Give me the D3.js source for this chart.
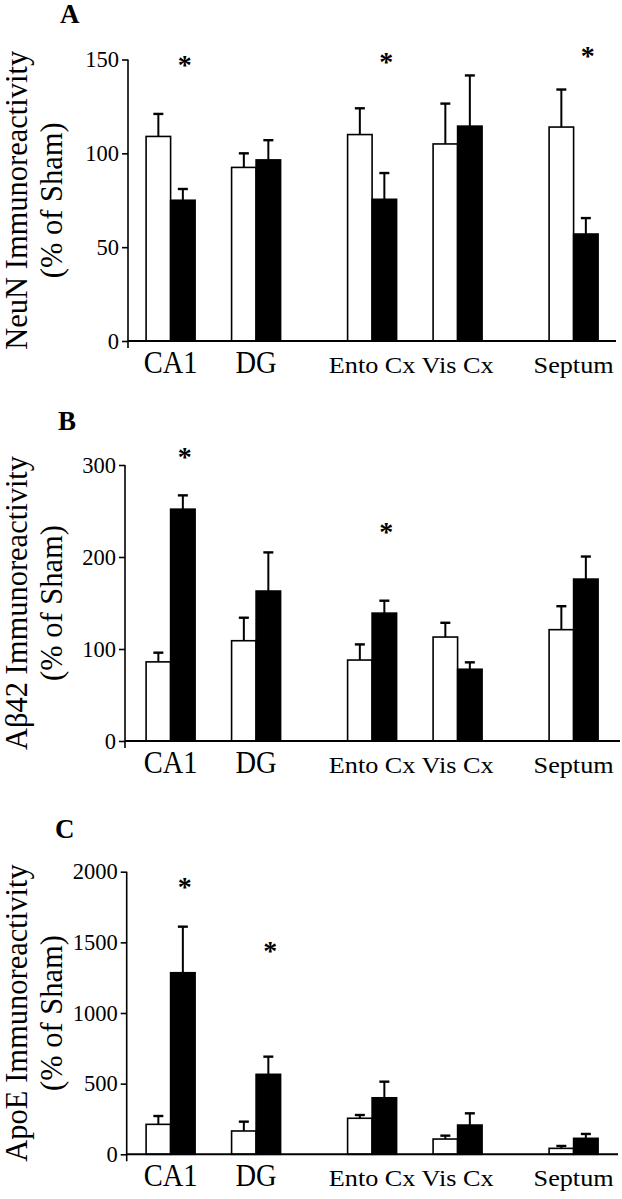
<!DOCTYPE html>
<html>
<head>
<meta charset="utf-8">
<script src="https://cdn.jsdelivr.net/npm/d3@7"></script>
<style>
  html, body { margin: 0; padding: 0; background: #fff; }
  svg { display: block; }
  text { font-family: "Liberation Serif", "Times New Roman", serif; fill: #000; }
</style>
</head>
<body>
<svg id="chart" width="622" height="1199"></svg>
<script>
// ---------------- DATA ----------------
const categories = ["CA1", "DG", "Ento Cx", "Vis Cx", "Septum"];
const seriesNames = ["Sham", "Injured"];

// Panel A: NeuN
const neunSham    = [109, 92.5, 110, 105, 114];
const neunShamSEM = [12, 7.5, 14, 21.5, 20];
const neunInj     = [75, 96.5, 75.5, 114.5, 57];
const neunInjSEM  = [6, 10.5, 14, 27, 8.5];
const neunSig     = [148, null, 149.5, null, 153];
const neunTicks   = [0, 50, 100, 150];

// Panel B: Abeta42
const abSham    = [86, 109, 88, 113, 121];
const abShamSEM = [10, 25, 17, 15.5, 25.5];
const abInj     = [252, 163, 139, 78, 176];
const abInjSEM  = [15, 42, 13.5, 7.5, 24.5];
const abSig     = [311, null, 229, null, null];
const abTicks   = [0, 100, 200, 300];

// Panel C: ApoE
const apoSham    = [212, 165, 255, 108, 42];
const apoShamSEM = [59, 66, 23, 24, 17];
const apoInj     = [1285, 566, 400, 207, 113];
const apoInjSEM  = [326, 125, 114, 83, 31];
const apoSig     = [1906, 1451, null, null, null];
const apoTicks   = [0, 500, 1000, 1500, 2000];

// ---------------- LAYOUT ----------------
const svg = d3.select("#chart");
svg.append("rect").attr("width", 622).attr("height", 1199).attr("fill", "#fff");

// slot index with extra gap before new brain region
const regionStarts = ["Ento Cx", "Septum"];
const regionGap = 0.357;
let acc = 0;
const slot = {};
categories.forEach((c, i) => {
  if (i > 0) acc += 1 + (regionStarts.includes(c) ? regionGap : 0);
  slot[c] = acc;
});
const maxSlot = acc;

const panels = [
  { letter: "A", title1: "NeuN Immunoreactivity", sham: neunSham, shamSEM: neunShamSEM, inj: neunInj, injSEM: neunInjSEM, sig: neunSig, ticks: neunTicks,
    top: 59.5, bottom: 341, axisX: 128, rightX: 616, letterX: 60, letterY: 23 },
  { letter: "B", title1: "Aβ42 Immunoreactivity", sham: abSham, shamSEM: abShamSEM, inj: abInj, injSEM: abInjSEM, sig: abSig, ticks: abTicks,
    top: 465, bottom: 741, axisX: 125, rightX: 620, letterX: 58, letterY: 430 },
  { letter: "C", title1: "ApoE Immunoreactivity", sham: apoSham, shamSEM: apoShamSEM, inj: apoInj, injSEM: apoInjSEM, sig: apoSig, ticks: apoTicks,
    top: 871.7, bottom: 1154.3, axisX: 126.7, rightX: 618, letterX: 55, letterY: 838 }
];

const barW = 24.5;
const capW = 10;

panels.forEach(p => {
  const g = svg.append("g");
  const y = d3.scaleLinear().domain([0, d3.max(p.ticks)]).range([p.bottom, p.top]);
  const xc = d3.scaleLinear().domain([0, maxSlot]).range([170.6, 573.6]);

  // panel letter
  g.append("text").attr("x", p.letterX).attr("y", p.letterY)
    .attr("font-size", 27).attr("font-weight", "bold").text(p.letter);

  // y title
  const cy = (p.top + p.bottom) / 2;
  const t = g.append("g").attr("transform", `translate(0,${cy}) rotate(-90)`);
  t.append("text").attr("x", 0).attr("y", 27).attr("text-anchor", "middle")
    .attr("font-size", 30.5).text(p.title1);
  t.append("text").attr("x", 0).attr("y", 62).attr("text-anchor", "middle")
    .attr("font-size", 30.5).text("(% of Sham)");

  // bars
  const series = [
    { vals: p.sham, sem: p.shamSEM, fill: "#fff", off: -barW },
    { vals: p.inj, sem: p.injSEM, fill: "#000", off: 0 }
  ];
  series.forEach(s => {
    const sg = g.append("g");
    sg.selectAll("rect").data(categories).join("rect")
      .attr("x", c => xc(slot[c]) + s.off)
      .attr("y", (c, i) => y(s.vals[i]))
      .attr("width", barW)
      .attr("height", (c, i) => y(0) - y(s.vals[i]))
      .attr("fill", s.fill).attr("stroke", "#000").attr("stroke-width", 1.6);
    // error bars (upward only)
    sg.selectAll("line.v").data(categories).join("line").attr("class", "v")
      .attr("x1", c => xc(slot[c]) + s.off + barW / 2)
      .attr("x2", c => xc(slot[c]) + s.off + barW / 2)
      .attr("y1", (c, i) => y(s.vals[i]))
      .attr("y2", (c, i) => y(s.vals[i] + s.sem[i]))
      .attr("stroke", "#000").attr("stroke-width", 2);
    sg.selectAll("line.cap").data(categories).join("line").attr("class", "cap")
      .attr("x1", c => xc(slot[c]) + s.off + barW / 2 - capW / 2)
      .attr("x2", c => xc(slot[c]) + s.off + barW / 2 + capW / 2)
      .attr("y1", (c, i) => y(s.vals[i] + s.sem[i]))
      .attr("y2", (c, i) => y(s.vals[i] + s.sem[i]))
      .attr("stroke", "#000").attr("stroke-width", 2.4);
  });

  // asterisks
  g.selectAll("text.sig").data(categories.filter((c, i) => p.sig[i] != null)).join("text")
    .attr("class", "sig")
    .attr("x", c => xc(slot[c]) + barW / 2 + 2)
    .attr("y", c => y(p.sig[categories.indexOf(c)]) + 11)
    .attr("text-anchor", "middle").attr("font-size", 28).attr("font-weight", "bold")
    .text("*");

  // y axis
  const ax = g.append("g").attr("transform", `translate(${p.axisX},0)`)
    .call(d3.axisLeft(y).tickValues(p.ticks).tickFormat(d3.format("d"))
      .tickSize(6).tickSizeOuter(0).tickPadding(3));
  ax.select(".domain").remove();
  ax.selectAll(".tick line").attr("stroke", "#000").attr("stroke-width", 1.6);
  ax.selectAll(".tick text").attr("font-family", "Liberation Serif, serif").attr("font-size", 22.5).attr("fill", "#000");
  g.append("line").attr("x1", p.axisX).attr("x2", p.axisX)
    .attr("y1", p.top).attr("y2", p.bottom + 7)
    .attr("stroke", "#000").attr("stroke-width", 1.6);

  // x axis line
  g.append("line").attr("x1", p.axisX).attr("x2", p.rightX)
    .attr("y1", p.bottom).attr("y2", p.bottom)
    .attr("stroke", "#000").attr("stroke-width", 2);

  // category labels
  g.selectAll("text.cat").data(categories).join("text").attr("class", "cat")
    .attr("transform", (c, i) => {
      const big = i < 2;
      return `translate(${xc(slot[c])},${p.bottom + 32}) scale(${big ? 0.92 : 1.14},1)`;
    })
    .attr("text-anchor", "middle")
    .attr("font-size", (c, i) => i < 2 ? 31 : 23)
    .text(c => c);
});
</script>
</body>
</html>
